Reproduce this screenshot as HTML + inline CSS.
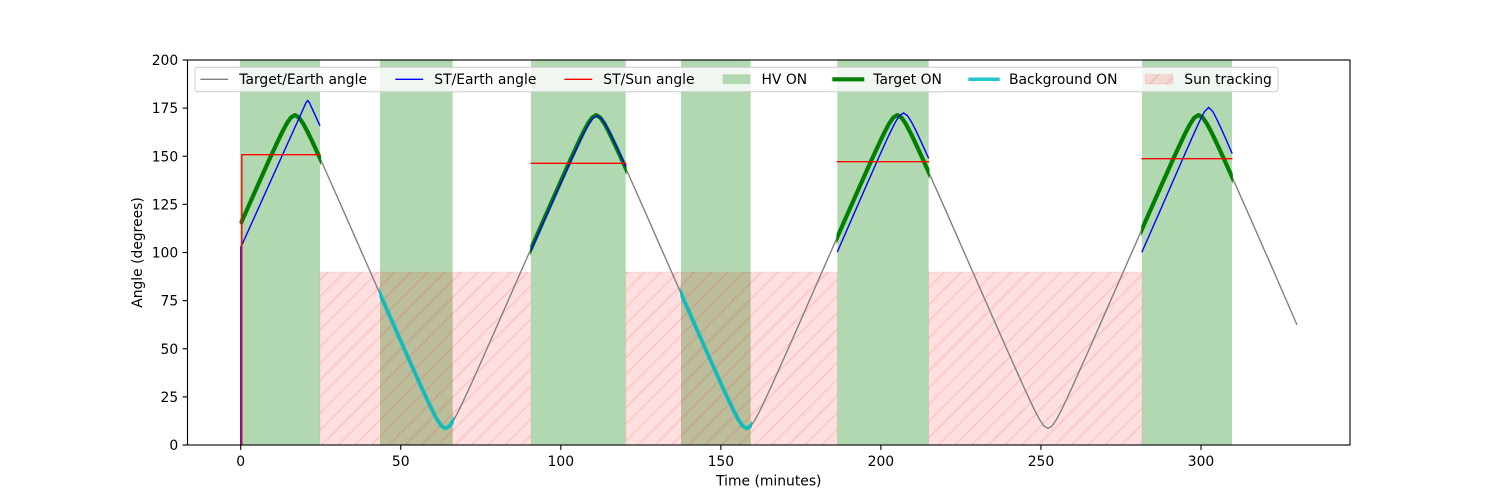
<!DOCTYPE html>
<html>
<head>
<meta charset="utf-8">
<style>
  html, body { margin: 0; padding: 0; background: #ffffff; }
  svg { display: block; }
  text { font-family: "DejaVu Sans", "Liberation Sans", sans-serif; font-size: 13.89px; fill: #000; }
</style>
</head>
<body>
<svg width="1500" height="500" viewBox="0 0 1500 500" xmlns="http://www.w3.org/2000/svg">
  <defs>
    <pattern id="hatch" patternUnits="userSpaceOnUse" width="16.6667" height="16.6667">
      <path d="M-4,4 L4,-4 M0,16.6667 L16.6667,0 M12.6667,20.6667 L20.6667,12.6667" stroke="#ff0000" stroke-opacity="0.13" stroke-width="1.4" fill="none"/>
    </pattern>
    <path id="gray" fill="none" d="M240.7,223.9 L244.76,214.71 257.31,186.36 269.86,158.35 278.23,140.31 282.41,131.69 286.59,123.83 290.78,117.63 294.96,115.06 299.14,117.63 303.33,123.83 307.51,131.69 311.69,140.31 320.06,158.35 332.61,186.36 345.16,214.71 370.26,271.75 395.36,328.79 407.91,357.14 420.46,385.15 428.83,403.19 433.01,411.81 437.19,419.67 441.38,425.87 445.56,428.45 449.74,425.87 453.93,419.67 458.11,411.81 462.29,403.19 470.66,385.15 483.21,357.14 495.76,328.79 520.86,271.75 545.97,214.71 558.52,186.36 571.07,158.35 579.44,140.31 583.62,131.69 587.80,123.83 591.99,117.63 596.17,115.06 600.35,117.63 604.54,123.83 608.72,131.69 612.90,140.31 621.27,158.35 633.82,186.36 646.37,214.71 671.47,271.75 696.58,328.79 709.13,357.14 721.68,385.15 730.05,403.19 734.23,411.81 738.41,419.67 742.60,425.87 746.78,428.45 750.96,425.87 755.15,419.67 759.33,411.81 763.51,403.19 771.88,385.15 784.43,357.14 796.98,328.79 822.08,271.75 847.19,214.71 859.74,186.36 872.29,158.35 880.66,140.31 884.84,131.69 889.02,123.83 893.21,117.63 897.39,115.06 901.57,117.63 905.76,123.83 909.94,131.69 914.12,140.31 922.49,158.35 935.04,186.36 947.59,214.71 972.69,271.75 997.80,328.79 1010.35,357.14 1022.90,385.15 1031.27,403.19 1035.45,411.81 1039.63,419.67 1043.82,425.87 1048.0,428.45 1052.18,425.87 1056.37,419.67 1060.55,411.81 1064.73,403.19 1073.10,385.15 1085.65,357.14 1098.20,328.79 1123.30,271.75 1148.40,214.71 1160.95,186.36 1173.50,158.35 1181.87,140.31 1186.05,131.69 1190.23,123.83 1194.42,117.63 1198.6,115.06 1202.78,117.63 1206.97,123.83 1211.15,131.69 1215.33,140.31 1223.70,158.35 1236.25,186.36 1248.80,214.71 1273.90,271.75 1297.0,324.9"/>
    <clipPath id="clipGreen">
      <rect x="239.5" y="55" width="81.5" height="395"/>
      <rect x="530.2" y="55" width="96.3" height="395"/>
      <rect x="836.5" y="55" width="93" height="395"/>
      <rect x="1141.2" y="55" width="91.6" height="395"/>
    </clipPath>
    <clipPath id="clipCyan">
      <rect x="379.3" y="55" width="74.5" height="395"/>
      <rect x="680.2" y="55" width="71.8" height="395"/>
    </clipPath>
    <clipPath id="axclip">
      <rect x="187.5" y="60" width="1162.5" height="385"/>
    </clipPath>
  </defs>

  <!-- HV ON bands -->
  <g fill="#b2d8b2">
    <rect x="240" y="60" width="80" height="385"/>
    <rect x="380" y="60" width="72.7" height="385"/>
    <rect x="531" y="60" width="94.7" height="385"/>
    <rect x="681" y="60" width="69.7" height="385"/>
    <rect x="837.3" y="60" width="91.4" height="385"/>
    <rect x="1142" y="60" width="90" height="385"/>
  </g>

  <!-- Sun tracking -->
  <g>
    <rect x="320" y="272" width="211" height="173" fill="#ff0000" fill-opacity="0.125" stroke="#ff0000" stroke-opacity="0.08" stroke-width="1"/>
    <rect x="625.7" y="272" width="211.6" height="173" fill="#ff0000" fill-opacity="0.125" stroke="#ff0000" stroke-opacity="0.08" stroke-width="1"/>
    <rect x="928.7" y="272" width="213.3" height="173" fill="#ff0000" fill-opacity="0.125" stroke="#ff0000" stroke-opacity="0.08" stroke-width="1"/>
    <rect x="320" y="272" width="211" height="173" fill="url(#hatch)"/>
    <rect x="625.7" y="272" width="211.6" height="173" fill="url(#hatch)"/>
    <rect x="928.7" y="272" width="213.3" height="173" fill="url(#hatch)"/>
  </g>

  <g clip-path="url(#axclip)" stroke-linejoin="round">
    <!-- Target/Earth angle -->
    <use href="#gray" stroke="#808080" stroke-width="1.39"/>
    <!-- Target ON -->
    <g clip-path="url(#clipGreen)">
      <use href="#gray" stroke="#008000" stroke-width="4.17"/>
    </g>
    <!-- Background ON -->
    <g clip-path="url(#clipCyan)">
      <use href="#gray" stroke="#00bfbf" stroke-opacity="0.85" stroke-width="4"/>
    </g>

    <!-- ST/Earth angle -->
    <g fill="none" stroke="#0000ff" stroke-width="1.39">
      <path d="M240.9,445 L240.9,247.1 L305.99,102.81 L307.73,100.43 L309.47,102.81 L320.02,125.83"/>
      <path d="M531,250.5 L546.77,214.79 559.32,186.47 571.87,158.56 580.24,140.60 584.42,132.09 588.60,124.33 592.79,118.29 596.97,115.83 601.15,118.29 605.34,124.33 609.52,132.09 613.70,140.60 622.07,158.56 625.8,166.8"/>
      <path d="M837.3,252.0 L853.67,214.54 866.13,186.07 878.58,157.89 886.89,139.52 891.04,130.72 895.19,122.52 899.35,115.84 903.50,112.94 907.65,115.84 911.81,122.52 915.96,130.72 920.11,139.52 928.7,158.5"/>
      <path d="M1141.8,252.3 L1158.59,214.19 1171.11,185.47 1183.63,156.85 1191.98,137.96 1196.16,128.66 1200.33,119.66 1204.51,111.57 1208.68,107.36 1212.85,111.57 1217.03,119.66 1221.20,128.66 1225.38,137.96 1232.2,153.6"/>
    </g>

    <!-- ST/Sun angle -->
    <g fill="none" stroke="#ff0000" stroke-width="1.39">
      <path d="M241.8,445 L241.8,154.7 L320.5,154.7"/>
      <path d="M530.5,163.3 L626.3,163.3"/>
      <path d="M836.8,161.7 L929.3,161.7"/>
      <path d="M1141.5,158.7 L1232.5,158.7"/>
    </g>
  </g>

  <!-- Axes frame -->
  <rect x="187.5" y="60" width="1162.5" height="385" fill="none" stroke="#000" stroke-width="1.11"/>

  <!-- X ticks -->
  <g stroke="#000" stroke-width="1.11">
    <line x1="240.7" y1="445" x2="240.7" y2="449.9"/>
    <line x1="400.75" y1="445" x2="400.75" y2="449.9"/>
    <line x1="560.8" y1="445" x2="560.8" y2="449.9"/>
    <line x1="720.85" y1="445" x2="720.85" y2="449.9"/>
    <line x1="880.9" y1="445" x2="880.9" y2="449.9"/>
    <line x1="1040.95" y1="445" x2="1040.95" y2="449.9"/>
    <line x1="1201.0" y1="445" x2="1201.0" y2="449.9"/>
  </g>
  <g text-anchor="middle">
    <text x="240.7" y="466">0</text>
    <text x="400.75" y="466">50</text>
    <text x="560.8" y="466">100</text>
    <text x="720.85" y="466">150</text>
    <text x="880.9" y="466">200</text>
    <text x="1040.95" y="466">250</text>
    <text x="1201.0" y="466">300</text>
  </g>

  <!-- Y ticks -->
  <g stroke="#000" stroke-width="1.11">
    <line x1="182.6" y1="445" x2="187.5" y2="445"/>
    <line x1="182.6" y1="396.875" x2="187.5" y2="396.875"/>
    <line x1="182.6" y1="348.75" x2="187.5" y2="348.75"/>
    <line x1="182.6" y1="300.625" x2="187.5" y2="300.625"/>
    <line x1="182.6" y1="252.5" x2="187.5" y2="252.5"/>
    <line x1="182.6" y1="204.375" x2="187.5" y2="204.375"/>
    <line x1="182.6" y1="156.25" x2="187.5" y2="156.25"/>
    <line x1="182.6" y1="108.125" x2="187.5" y2="108.125"/>
    <line x1="182.6" y1="60" x2="187.5" y2="60"/>
  </g>
  <g text-anchor="end">
    <text x="178.2" y="450.1">0</text>
    <text x="178.2" y="401.975">25</text>
    <text x="178.2" y="353.85">50</text>
    <text x="178.2" y="305.725">75</text>
    <text x="178.2" y="257.6">100</text>
    <text x="178.2" y="209.475">125</text>
    <text x="178.2" y="161.35">150</text>
    <text x="178.2" y="113.225">175</text>
    <text x="178.2" y="65.1">200</text>
  </g>

  <!-- Axis labels -->
  <text x="768.8" y="485.5" text-anchor="middle">Time (minutes)</text>
  <text transform="translate(141.8,252.5) rotate(-90)" text-anchor="middle">Angle (degrees)</text>

  <!-- Legend -->
  <rect x="195" y="67.3" width="1083" height="24.4" rx="2.8" ry="2.8" fill="#ffffff" fill-opacity="0.8" stroke="#cccccc" stroke-width="1"/>
  <line x1="200.4" y1="79.3" x2="228.2" y2="79.3" stroke="#808080" stroke-width="1.39"/>
  <text x="239.3" y="83.8">Target/Earth angle</text>
  <line x1="395.4" y1="79.3" x2="423.2" y2="79.3" stroke="#0000ff" stroke-width="1.39"/>
  <text x="434.3" y="83.8">ST/Earth angle</text>
  <line x1="564.4" y1="79.3" x2="592.2" y2="79.3" stroke="#ff0000" stroke-width="1.39"/>
  <text x="603.3" y="83.8">ST/Sun angle</text>
  <rect x="722.6" y="74.4" width="27.8" height="9.7" fill="#b2d8b2"/>
  <text x="761.5" y="83.8">HV ON</text>
  <line x1="834.4" y1="79.3" x2="862.2" y2="79.3" stroke="#008000" stroke-width="4.17" stroke-linecap="square"/>
  <text x="873.3" y="83.8">Target ON</text>
  <line x1="970.1" y1="79.3" x2="997.9" y2="79.3" stroke="#00bfbf" stroke-opacity="0.85" stroke-width="3.5" stroke-linecap="square"/>
  <text x="1009" y="83.8">Background ON</text>
  <rect x="1145.1" y="74.4" width="27.8" height="9.7" fill="#ff0000" fill-opacity="0.125" stroke="#ff0000" stroke-opacity="0.08" stroke-width="1"/>
  <rect x="1145.1" y="74.4" width="27.8" height="9.7" fill="url(#hatch)"/>
  <text x="1184.3" y="83.8">Sun tracking</text>
</svg>
</body>
</html>
